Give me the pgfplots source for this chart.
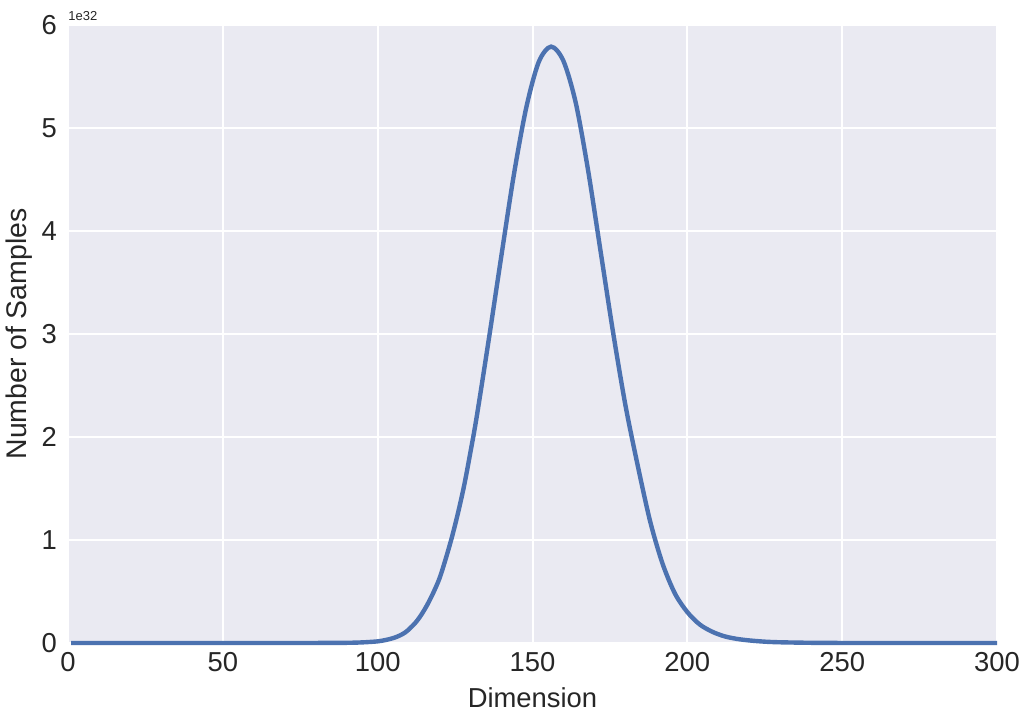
\documentclass[border=0pt]{standalone}
\usepackage{pgfplots}
\pgfplotsset{compat=1.18}
\usepackage{fontspec}
\setmainfont{Liberation Sans}
\definecolor{sbbg}{HTML}{EAEAF2}
\definecolor{sbblue}{HTML}{4C72B0}
\definecolor{sbtext}{HTML}{262626}
\begin{document}
\begin{tikzpicture}
\begin{axis}[
  scale only axis,
  width=464.5pt, height=309pt,
  xmin=0, xmax=300, ymin=0, ymax=6,
  xtick={0,50,100,150,200,250,300},
  ytick={0,1,2,3,4,5,6},
  axis background/.style={fill=sbbg},
  axis line style={draw=none},
  grid=major,
  major grid style={white, line width=1pt},
  major tick length=0pt,
  tick style={draw=none},
  /pgf/number format/assume math mode=true,
  ticklabel style={font=\fontsize{13.7}{15}\selectfont, text=sbtext},
  xticklabel style={yshift=-1pt},
  yticklabel style={xshift=-2pt},
  xlabel={Dimension},
  ylabel={Number of Samples},
  x label style={font=\fontsize{13.7}{15}\selectfont, text=sbtext, at={(axis description cs:0.5,-0.089)}, anchor=center},
  y label style={font=\fontsize{14.2}{15}\selectfont, text=sbtext, at={(axis description cs:-0.0527,0.5)}, anchor=center},
  clip=false,
]
\addplot[sbblue, line width=2.2pt, smooth, tension=0.5] coordinates {
(1,0) (60,0) (80,0.0005) (90,0.002) (95,0.006) (100,0.016) (103,0.032)
(106,0.058) (109,0.105) (112,0.19) (114,0.27) (116,0.37) (118,0.49)
(120,0.63) (122,0.82) (124,1.03) (126,1.27) (128,1.54) (130,1.86)
(132,2.20) (136,2.97) (140,3.77) (144,4.55) (148,5.20) (152,5.64)
(156,5.79) (160,5.65) (164,5.24) (168,4.58) (172,3.80) (176,3.02)
(180,2.31) (184,1.72) (188,1.18) (192,0.77) (196,0.48) (200,0.30)
(204,0.18) (208,0.11) (212,0.065) (216,0.04) (220,0.025) (225,0.013)
(230,0.007) (240,0.002) (250,0.0005) (300,0)
};
\node[anchor=south west, inner sep=0pt, font=\fontsize{6.5}{7}\selectfont, text=sbtext]
  at ([yshift=2pt]rel axis cs:0,1) {1e32};
\end{axis}
\pgfresetboundingbox
\path ([shift={(-34pt,-40pt)}]current axis.south west) rectangle ([shift={(17pt,12.5pt)}]current axis.north east);
\end{tikzpicture}
\end{document}
